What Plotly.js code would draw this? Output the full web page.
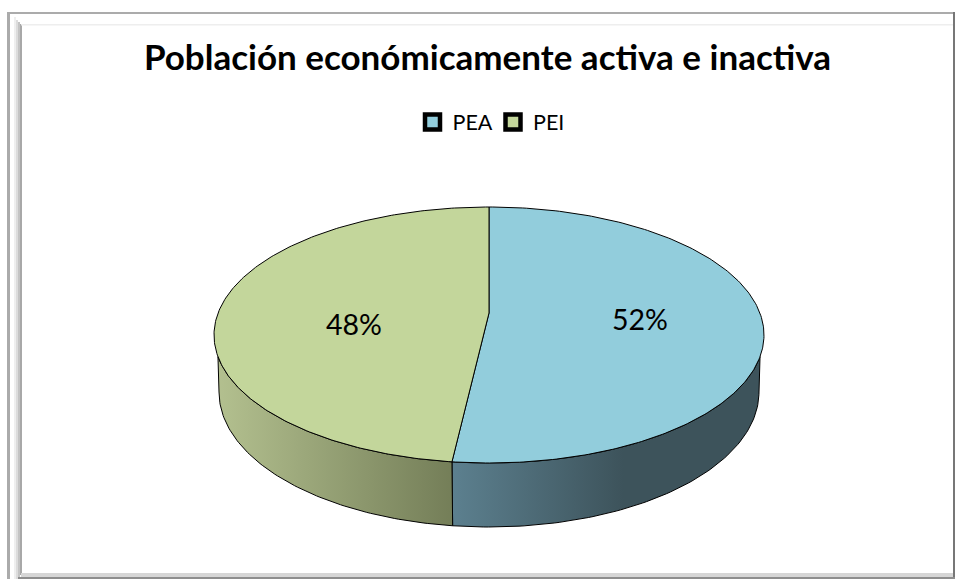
<!DOCTYPE html>
<html><head><meta charset="utf-8">
<script src="https://cdn.plot.ly/plotly-3.0.0.min.js"></script>
<style>html,body{margin:0;padding:0;background:#fff}#c{width:955px;height:579px}</style>
</head><body><div id="c"></div>
<script>
const categories = ['PEA', 'PEI'];
const shares = [52.15, 47.85];
const topColors = ['#92CDDC', '#C3D69B'];
const wallScales = [
  [[0, '#5C808F'], [0.55, '#3D535B'], [1, '#3D535B']],
  [[0, '#B3C08F'], [1, '#747E58']]
];
const chartTitle = 'Población económicamente activa e inactiva';

// Projection of the tilted disc, in px of the page
const W = 955, H = 579, CX = 489, CY = 335, RX = 275, RY = 128;
const APEX_Y = 313, BOT_CY = 392, BOT_RX = 270, BOT_RY = 135;
const xr = [(0 - CX) / RX, (W - CX) / RX];
const yr = [(CY - H) / RY, CY / RY];
const total = shares.reduce((a, b) => a + b, 0);
const turn = v => v / total * 2 * Math.PI;
const yUnit = px => (CY - px) / RY;
const xUnit = px => (px - CX) / RX;
const range = (a, b, n) => Array.from({length: n + 1}, (_, i) => a + (b - a) * i / n);

let traces = [];
let a0 = 0;
const slices = shares.map((v, i) => { const s = {from: a0, to: a0 + turn(v), i}; a0 = s.to; return s; });

// Visible front wall: sweep clamped to the lower half of the rim (plus the rim's tangent point)
const limitR = Math.PI / 2 + 0.17, limitL = 3 * Math.PI / 2 - 0.17;
slices.forEach(s => {
  const f = Math.max(s.from, limitR), t = Math.min(s.to, limitL);
  const topA = range(f, t, 90), botF = Math.max(s.from, Math.PI / 2), botT = Math.min(s.to, 3 * Math.PI / 2);
  const botA = range(botT, botF, 90);
  const x = topA.map(a => Math.sin(a)).concat(botA.map(a => xUnit(CX + BOT_RX * Math.sin(a))));
  const y = topA.map(a => Math.cos(a)).concat(botA.map(a => yUnit(BOT_CY - BOT_RY * Math.cos(a))));
  x.push(x[0]); y.push(y[0]);
  const stops = s.i === 0 ? [xUnit(452), xUnit(764)] : [xUnit(218), xUnit(452)];
  traces.push({x, y, mode: 'lines', fill: 'toself', line: {color: '#000', width: 1},
    fillgradient: {type: 'horizontal', colorscale: wallScales[s.i], start: stops[0], stop: stops[1]},
    showlegend: false, hoverinfo: 'skip'});
});

// Top faces
slices.forEach(s => {
  const arc = range(s.from, s.to, 240);
  const x = [0].concat(arc.map(a => Math.sin(a)), [0]);
  const y = [yUnit(APEX_Y)].concat(arc.map(a => Math.cos(a)), [yUnit(APEX_Y)]);
  traces.push({x, y, mode: 'lines', fill: 'toself', fillcolor: topColors[s.i],
    line: {color: '#000', width: 1}, showlegend: false, hoverinfo: 'skip'});
});

// Legend entries
categories.forEach((c, i) => traces.push({x: [null], y: [null], mode: 'markers', name: c,
  marker: {symbol: 'square', size: 15, color: topColors[i], line: {color: '#000', width: 4.5}}, hoverinfo: 'skip'}));

const labelPos = [[639.5, 319], [354, 323.5]];
const annotations = shares.map((v, i) => ({x: xUnit(labelPos[i][0]), y: yUnit(labelPos[i][1]), xref: 'x', yref: 'y',
  text: Math.round(v) + '%', showarrow: false, font: {family: 'Lato, "Noto Sans", sans-serif', size: 28.5, color: '#000'}}));

const band = (x0, y0, x1, y1, c) => ({type: 'rect', xref: 'paper', yref: 'paper', layer: 'below',
  x0: x0 / W, x1: x1 / W, y0: 1 - y0 / H, y1: 1 - y1 / H, fillcolor: c, line: {width: 0}});
const shapes = [
  band(7, 12, 955, 14, '#ABABAB'),
  band(7, 12, 10, 579, '#ABABAB'),
  band(14, 17, 16, 579, '#EFEFEF'), band(16, 20, 18, 579, '#DCDCDC'), band(18, 22, 20, 579, '#C4C4C4'), band(20, 24, 22, 575, '#A8A8A8'),
  band(21, 24, 955, 25.5, '#EEEEEE'),
  band(953, 12, 955, 579, '#777777'),
  band(21, 573, 953, 577, '#D6D6D6'),
  band(18, 577, 955, 579, '#8E8E8E')
];

const layout = {
  width: W, height: H, margin: {l: 0, r: 0, t: 0, b: 0},
  paper_bgcolor: '#fff', plot_bgcolor: 'rgba(0,0,0,0)',
  title: {text: chartTitle, x: 487.5 / W, xanchor: 'center', y: 1 - 58 / H, yanchor: 'middle',
    font: {family: 'Lato, "Noto Sans", sans-serif', size: 35, weight: 700, color: '#000'}},
  xaxis: {range: xr, visible: false, fixedrange: true},
  yaxis: {range: yr, visible: false, fixedrange: true},
  legend: {orientation: 'h', x: 412.5 / W, xanchor: 'left', y: 1 - 122 / H, yanchor: 'middle',
    font: {family: 'Lato, "Noto Sans", sans-serif', size: 21.5, color: '#000'}, itemwidth: 30, entrywidth: 35.5, entrywidthmode: 'pixels', bgcolor: 'rgba(0,0,0,0)'},
  annotations, shapes
};
Plotly.newPlot('c', traces, layout, {displayModeBar: false, staticPlot: true});
</script></body></html>
